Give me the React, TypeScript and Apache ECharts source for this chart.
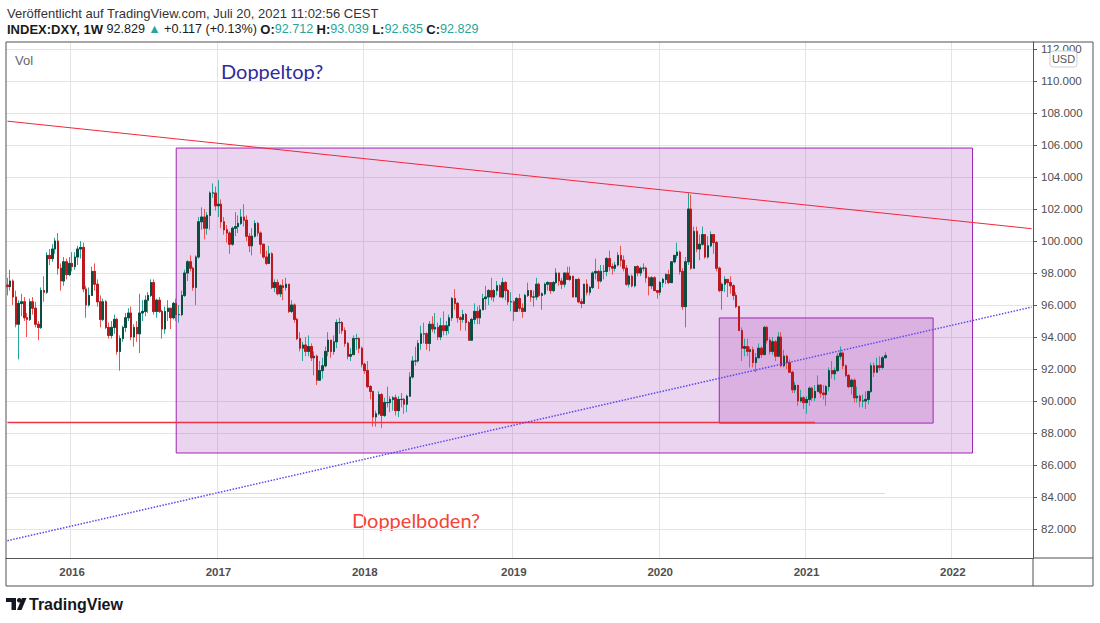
import React, { useEffect, useRef } from "react";
import * as echarts from "echarts";

// ---------- DATA (weekly candles, [open, close, low, high]) ----------
const firstWeek = "2015-07-27";
const totalWeeks = 365; // axis runs into 2022 with empty space

const y2015 = [
  [97.25, 97.15, 96.6, 97.7], [97.15, 97.5, 96.9, 98.2], [97.5, 96.5, 96.0, 97.6], [96.5, 94.8, 94.6, 96.9],
  [94.8, 96.1, 92.6, 96.3], [96.1, 96.2, 95.3, 96.7], [96.2, 95.2, 95.0, 96.5], [95.2, 95.1, 94.0, 95.5],
  [95.1, 96.2, 95.0, 96.4], [96.2, 95.8, 95.4, 96.5], [95.8, 94.8, 94.6, 96.2], [94.8, 94.6, 93.8, 95.0],
  [94.6, 96.9, 94.5, 97.1], [96.9, 96.8, 96.2, 97.8], [96.8, 99.1, 96.7, 99.3], [99.1, 98.9, 98.5, 99.5],
  [98.9, 99.5, 98.7, 99.8], [99.5, 100.0, 99.2, 100.2], [100.0, 98.3, 97.9, 100.5], [98.3, 97.5, 96.9, 98.6],
  [97.5, 98.7, 97.2, 99.0], [98.7, 97.9, 97.6, 98.9], [97.9, 98.6, 97.8, 99.0],
];
const y2016 = [
  [98.6, 98.4, 98.1, 99.3], [98.4, 99.0, 98.2, 99.3], [99.0, 99.5, 98.5, 99.7], [99.5, 99.6, 98.9, 100.0],
  [99.6, 97.0, 96.8, 99.9], [97.0, 96.0, 95.2, 97.2], [96.0, 96.6, 95.9, 97.1], [96.6, 98.1, 96.6, 98.4],
  [98.1, 97.3, 96.9, 98.6], [97.3, 96.2, 95.9, 97.6], [96.2, 95.1, 94.6, 96.6], [95.1, 96.2, 95.0, 96.4],
  [96.2, 94.6, 94.5, 96.3], [94.6, 94.1, 93.9, 94.9], [94.1, 94.6, 93.9, 95.0], [94.6, 95.1, 94.2, 95.4],
  [95.1, 93.1, 92.9, 95.2], [93.1, 93.9, 91.9, 94.1], [93.9, 94.6, 93.7, 94.7], [94.6, 95.2, 94.3, 95.5],
  [95.2, 95.5, 95.0, 95.8], [95.5, 94.0, 93.8, 95.9], [94.0, 94.6, 93.4, 94.8], [94.6, 94.2, 93.7, 95.0],
  [94.2, 95.5, 93.0, 96.7], [95.5, 95.6, 95.0, 96.3], [95.6, 96.3, 95.3, 96.6], [96.3, 96.6, 95.5, 96.8],
  [96.6, 97.4, 96.5, 97.6], [97.4, 95.6, 95.4, 97.6], [95.6, 96.3, 95.2, 96.4], [96.3, 95.6, 95.5, 96.5],
  [95.6, 94.5, 93.9, 95.7], [94.5, 95.6, 94.2, 95.9], [95.6, 95.8, 95.0, 96.3], [95.8, 95.2, 94.5, 95.8],
  [95.2, 96.1, 95.1, 96.2], [96.1, 95.4, 95.0, 96.4], [95.4, 95.4, 94.9, 96.0], [95.4, 96.6, 95.3, 96.9],
  [96.6, 98.0, 96.5, 98.2], [98.0, 98.7, 97.5, 98.8], [98.7, 98.3, 98.1, 99.1], [98.3, 97.1, 96.9, 98.4],
  [97.1, 99.0, 96.0, 99.1], [99.0, 101.2, 98.9, 101.5], [101.2, 101.5, 100.7, 102.1], [101.5, 100.8, 100.1, 102.0],
  [100.8, 101.6, 100.4, 101.8], [101.6, 103.0, 100.7, 103.1], [103.0, 103.0, 102.7, 103.6], [103.0, 102.2, 101.9, 103.4],
];
const y2017 = [
  [102.2, 102.3, 101.5, 103.8], [102.3, 101.2, 100.8, 102.6], [101.2, 100.7, 100.4, 101.5], [100.7, 100.5, 99.9, 101.0],
  [100.5, 99.8, 99.2, 100.6], [99.8, 100.8, 99.7, 100.9], [100.8, 100.9, 100.3, 101.8], [100.9, 101.1, 100.5, 101.6],
  [101.1, 101.5, 101.0, 102.0], [101.5, 101.3, 100.9, 102.3], [101.3, 100.3, 100.0, 101.6], [100.3, 99.7, 99.3, 100.5],
  [99.7, 100.3, 99.1, 100.8], [100.3, 101.1, 100.2, 101.3], [101.1, 100.5, 100.3, 101.2], [100.5, 99.8, 99.2, 100.6],
  [99.8, 99.0, 98.9, 99.8], [99.0, 98.6, 98.5, 99.4], [98.6, 99.2, 98.6, 99.7], [99.2, 97.1, 97.0, 99.3],
  [97.1, 97.4, 96.8, 97.6], [97.4, 96.7, 96.6, 97.6], [96.7, 97.2, 96.5, 97.3], [97.2, 97.1, 96.3, 97.6],
  [97.1, 97.3, 96.9, 97.7], [97.3, 95.6, 95.5, 97.3], [95.6, 96.0, 95.5, 96.3], [96.0, 95.1, 94.9, 96.1],
  [95.1, 93.9, 93.8, 95.2], [93.9, 93.3, 93.1, 94.3], [93.3, 93.5, 92.5, 93.7], [93.5, 93.1, 92.8, 94.0],
  [93.1, 93.4, 92.8, 94.1], [93.4, 92.7, 92.5, 93.6], [92.7, 92.8, 91.6, 93.1], [92.8, 91.3, 91.0, 92.9],
  [91.3, 91.9, 91.3, 92.5], [91.9, 92.2, 91.4, 92.7], [92.2, 93.1, 92.1, 93.4], [93.1, 93.8, 92.8, 94.3],
  [93.8, 93.1, 92.7, 93.8], [93.1, 93.7, 92.9, 94.1], [93.7, 94.9, 93.3, 95.1], [94.9, 94.9, 94.2, 95.2],
  [94.9, 94.4, 94.2, 95.0], [94.4, 93.6, 93.4, 94.6], [93.6, 92.8, 92.6, 93.7], [92.8, 92.9, 92.5, 93.3],
  [92.9, 93.9, 92.9, 94.1], [93.9, 93.9, 93.2, 94.2], [93.9, 93.3, 93.0, 94.0], [93.3, 92.3, 92.1, 93.4],
];
const y2018 = [
  [92.3, 91.9, 91.7, 92.4], [91.9, 90.9, 90.8, 92.5], [90.9, 90.6, 90.1, 91.0], [90.6, 89.0, 88.4, 90.6],
  [89.0, 89.2, 88.4, 89.4], [89.2, 90.4, 89.1, 90.6], [90.4, 89.1, 88.3, 90.5], [89.1, 89.9, 89.0, 90.2],
  [89.9, 89.9, 89.6, 90.9], [89.9, 90.1, 89.3, 90.3], [90.1, 90.2, 89.4, 90.3], [90.2, 89.4, 89.1, 90.4],
  [89.4, 90.1, 89.0, 90.3], [90.1, 90.1, 89.6, 90.5], [90.1, 89.8, 89.2, 90.2], [89.8, 90.3, 89.3, 90.4],
  [90.3, 91.5, 90.3, 91.8], [91.5, 92.5, 91.4, 92.8], [92.5, 92.5, 92.2, 93.4], [92.5, 93.6, 92.4, 93.8],
  [93.6, 94.2, 93.2, 94.7], [94.2, 94.2, 93.6, 94.9], [94.2, 93.6, 93.2, 94.3], [93.6, 94.8, 93.1, 95.0],
  [94.8, 94.5, 94.3, 95.3], [94.5, 94.6, 94.2, 95.5], [94.6, 94.0, 93.8, 94.9], [94.0, 94.7, 93.8, 95.2],
  [94.7, 94.4, 94.1, 95.6], [94.4, 94.7, 94.1, 95.0], [94.7, 95.2, 94.2, 95.4], [95.2, 96.4, 95.0, 96.5],
  [96.4, 96.1, 95.7, 97.0], [96.1, 95.2, 94.9, 96.2], [95.2, 95.1, 94.4, 95.3], [95.1, 95.4, 94.9, 95.7],
  [95.4, 94.9, 94.4, 95.5], [94.9, 93.8, 93.8, 95.0], [93.8, 95.1, 93.8, 95.2], [95.1, 95.6, 94.8, 96.1],
  [95.6, 95.2, 94.8, 95.9], [95.2, 95.7, 94.8, 96.0], [95.7, 96.4, 95.7, 96.7], [96.4, 96.5, 95.7, 97.2],
  [96.5, 96.9, 96.0, 97.0], [96.9, 96.5, 96.3, 97.7], [96.5, 96.9, 96.2, 97.0], [96.9, 97.2, 96.6, 97.5],
  [97.2, 96.5, 96.5, 97.3], [96.5, 97.4, 96.4, 97.7], [97.4, 96.9, 96.3, 97.5], [96.9, 96.2, 96.0, 97.0],
  [96.2, 96.2, 95.6, 96.8],
];
const y2019 = [
  [96.2, 95.6, 95.0, 96.3], [95.6, 96.4, 95.6, 96.5], [96.4, 95.8, 95.6, 96.7], [95.8, 95.6, 95.2, 96.1],
  [95.6, 96.6, 95.6, 96.7], [96.6, 96.9, 96.5, 97.4], [96.9, 96.5, 96.2, 96.9], [96.5, 96.5, 95.9, 96.9],
  [96.5, 97.3, 96.3, 97.7], [97.3, 96.6, 96.5, 97.4], [96.6, 96.7, 95.7, 96.8], [96.7, 97.3, 96.6, 97.4],
  [97.3, 97.4, 96.9, 97.5], [97.4, 96.9, 96.7, 97.4], [96.9, 97.4, 96.8, 97.5], [97.4, 98.0, 97.3, 98.3],
  [98.0, 97.5, 97.2, 98.0], [97.5, 97.3, 97.0, 97.7], [97.3, 98.0, 97.1, 98.0], [98.0, 97.6, 97.6, 98.4],
  [97.6, 97.8, 97.5, 98.4], [97.8, 96.5, 96.5, 97.8], [96.5, 97.6, 96.5, 97.6], [97.6, 96.2, 96.1, 97.7],
  [96.2, 96.1, 95.8, 96.4], [96.1, 97.3, 96.1, 97.3], [97.3, 96.8, 96.6, 97.6], [96.8, 97.1, 96.6, 97.2],
  [97.1, 98.0, 97.0, 98.1], [98.0, 98.1, 97.6, 98.9], [98.1, 97.5, 97.0, 98.2], [97.5, 98.1, 97.4, 98.5],
  [98.1, 98.1, 97.6, 98.5], [98.1, 98.9, 97.8, 99.0], [98.9, 98.4, 98.1, 99.4], [98.4, 98.3, 97.9, 98.6],
  [98.3, 98.5, 98.1, 98.7], [98.5, 99.1, 98.4, 99.3], [99.1, 98.8, 98.4, 99.7], [98.8, 98.3, 98.1, 99.1],
  [98.3, 97.3, 97.2, 98.5], [97.3, 97.8, 97.1, 97.9], [97.8, 97.2, 97.1, 97.9], [97.2, 98.4, 97.1, 98.4],
  [98.4, 98.0, 97.8, 98.5], [98.0, 98.3, 97.8, 98.4], [98.3, 98.3, 98.1, 98.6], [98.3, 97.7, 97.4, 98.4],
  [97.7, 97.2, 96.6, 97.8], [97.2, 97.7, 97.0, 97.8], [97.7, 96.9, 96.9, 97.8], [96.9, 96.8, 96.4, 96.9],
];
const y2020 = [
  [96.8, 97.4, 96.6, 97.5], [97.4, 97.6, 97.1, 97.7], [97.6, 97.9, 97.3, 98.0], [97.9, 97.4, 97.3, 98.2],
  [97.4, 98.7, 97.4, 98.7], [98.7, 99.1, 98.6, 99.1], [99.1, 99.3, 98.9, 99.9], [99.3, 98.1, 97.9, 99.4],
  [98.1, 95.9, 95.7, 98.3], [95.9, 98.7, 94.6, 99.0], [98.7, 102.0, 98.5, 103.0], [102.0, 98.3, 98.2, 102.9],
  [98.3, 100.6, 98.3, 100.9], [100.6, 99.5, 99.3, 100.9], [99.5, 99.8, 98.8, 100.4], [99.8, 100.4, 99.7, 100.9],
  [100.4, 99.0, 98.9, 100.4], [99.0, 99.7, 98.9, 100.3], [99.7, 100.4, 99.6, 100.6], [100.4, 99.9, 99.2, 100.4],
  [99.9, 98.3, 98.1, 100.0], [98.3, 96.9, 96.8, 98.4], [96.9, 97.3, 95.7, 97.4], [97.3, 97.6, 96.8, 97.8],
  [97.6, 97.4, 96.5, 97.6], [97.4, 97.2, 96.7, 97.8], [97.2, 96.6, 96.3, 97.3], [96.6, 95.9, 95.8, 96.8],
  [95.9, 94.4, 94.4, 95.9], [94.4, 93.3, 92.5, 94.6], [93.3, 93.4, 92.8, 93.9], [93.4, 93.1, 92.8, 93.9],
  [93.1, 93.2, 92.1, 93.4], [93.2, 92.4, 92.1, 93.4], [92.4, 92.7, 91.8, 93.0], [92.7, 93.3, 92.7, 93.6],
  [93.3, 92.9, 92.7, 93.4], [92.9, 94.6, 92.9, 94.7], [94.6, 93.8, 93.6, 94.7], [93.8, 93.1, 92.9, 94.0],
  [93.1, 93.7, 92.9, 94.0], [93.7, 92.8, 92.5, 93.8], [92.8, 94.0, 92.8, 94.3], [94.0, 92.2, 92.1, 94.3],
  [92.2, 92.8, 92.1, 93.2], [92.8, 92.4, 92.0, 92.9], [92.4, 91.8, 91.8, 92.6], [91.8, 90.7, 90.5, 91.9],
  [90.7, 90.98, 90.5, 91.2], [90.98, 90.0, 89.7, 91.0], [90.0, 90.2, 89.9, 90.7], [90.2, 89.9, 89.5, 90.3],
];
const y2021 = [
  [89.9, 90.1, 89.2, 90.3], [90.1, 90.8, 89.7, 90.9], [90.8, 90.2, 90.0, 90.9], [90.2, 90.6, 90.0, 91.0],
  [90.6, 91.0, 90.6, 91.6], [91.0, 90.5, 90.2, 91.0], [90.5, 90.4, 90.1, 91.0], [90.4, 90.9, 89.7, 91.0],
  [90.9, 91.9, 90.6, 92.1], [91.9, 91.7, 91.4, 92.5], [91.7, 91.9, 91.3, 92.1], [91.9, 92.8, 91.8, 93.0],
  [92.8, 93.0, 92.6, 93.4], [93.0, 92.2, 92.0, 93.1], [92.2, 91.6, 91.5, 92.3], [91.6, 90.9, 90.8, 91.7],
  [90.9, 91.3, 90.4, 91.4], [91.3, 90.2, 89.9, 91.4], [90.2, 90.3, 89.9, 90.9], [90.3, 90.0, 89.6, 90.4],
  [90.0, 90.0, 89.6, 90.4], [90.0, 90.1, 89.5, 90.6], [90.1, 90.6, 89.8, 90.6], [90.6, 92.2, 90.5, 92.4],
  [92.2, 91.8, 91.5, 92.4], [91.8, 92.2, 91.8, 92.7], [92.2, 92.1, 91.9, 92.8], [92.1, 92.7, 92.0, 92.8],
  [92.712, 92.829, 92.635, 93.039],
];

const priceTicks = [82, 84, 86, 88, 90, 92, 94, 96, 98, 100, 102, 104, 106, 108, 110, 112];
const priceMin = 80.1875;
const priceMax = 112.4375;

// drawings (in data space: week date, price)
const bigBox = { from: "2016-09-19", to: "2022-02-21", low: 86.75, high: 105.81 };
const smallBox = { from: "2020-06-01", to: "2021-11-15", low: 88.62, high: 95.19 };
const resistance = [["2015-07-27", 107.49], ["2022-07-18", 100.77]];
const support = [["2015-07-27", 81.27], ["2022-07-18", 95.87]];
const bottomLine = [["2015-07-27", 88.69], ["2021-01-25", 88.69]];
const volLine = [["2015-07-27", 84.25], ["2021-07-19", 84.25]];

const buildDates = () => {
  const [y, m, d] = firstWeek.split("-").map(Number);
  const t0 = Date.UTC(y, m - 1, d);
  const out: string[] = [];
  for (let i = 0; i < totalWeeks; i++) {
    out.push(new Date(t0 + i * 7 * 86400000).toISOString().slice(0, 10));
  }
  return out;
};

export default function App() {
  const ref = useRef<HTMLDivElement>(null);
  useEffect(() => {
    document.body.style.margin = "0";
    const chart = echarts.init(ref.current!, null, { renderer: "svg" });
    const dates = buildDates();
    const candles = [...y2015, ...y2016, ...y2017, ...y2018, ...y2019, ...y2020, ...y2021];
    const bodies = candles.map(([o, c]) => [o, c, Math.min(o, c), Math.max(o, c)]);
    const isYearStart = (i: number) =>
      i > 0 && dates[i].slice(0, 4) !== dates[i - 1].slice(0, 4);

    const UP = "#0b4d3f";
    const DOWN = "#b9191f";
    const line = (pts: any[], lineStyle: any) => [{ coord: pts[0], lineStyle }, { coord: pts[1] }];

    const option: any = {
      animation: false,
      grid: { left: 6, right: 67, top: 42, bottom: 65, containLabel: false, outerBoundsMode: "none" },
      xAxis: {
        type: "category",
        data: dates,
        boundaryGap: true,
        axisLine: { show: true, lineStyle: { color: "#555", width: 1 } },
        axisTick: { show: false },
        axisLabel: {
          interval: (i: number) => isYearStart(i),
          formatter: (v: string) => v.slice(0, 4),
          color: "#4f4f4f",
          fontSize: 11.5,
          fontWeight: "bold",
          fontFamily: "Liberation Sans",
          margin: 8,
        },
        splitLine: {
          show: true,
          interval: (i: number) => isYearStart(i),
          lineStyle: { color: "#e4e4e4", width: 1 },
        },
      },
      yAxis: {
        type: "value",
        position: "right",
        min: priceMin,
        max: priceMax,
        axisLine: { show: true, lineStyle: { color: "#555", width: 1 } },
        axisTick: { show: true, length: 4, customValues: priceTicks, lineStyle: { color: "#555" } },
        axisLabel: {
          customValues: priceTicks,
          formatter: (v: number) => v.toFixed(3),
          color: "#4f4f4f",
          fontSize: 11.5,
          fontFamily: "Liberation Sans",
          margin: 8,
        },
        splitLine: { show: true, lineStyle: { color: "#e4e4e4", width: 1 } },
      },
      series: [
        {
          type: "line",
          data: [],
          z: 1,
          silent: true,
          markArea: {
            silent: true,
            itemStyle: { color: "rgba(156,39,176,0.2)", borderColor: "#9c27b0", borderWidth: 1 },
            data: [
              [{ xAxis: bigBox.from, yAxis: bigBox.high }, { xAxis: bigBox.to, yAxis: bigBox.low }],
              [{ xAxis: smallBox.from, yAxis: smallBox.high }, { xAxis: smallBox.to, yAxis: smallBox.low }],
            ],
          },
        },
        {
          type: "candlestick",
          data: candles,
          z: 2,
          barWidth: 2,
          itemStyle: {
            color: UP,
            color0: DOWN,
            borderColor: "#26a69a",
            borderColor0: "#ef5350",
            borderWidth: 1,
          },
        },
        {
          type: "candlestick",
          data: bodies,
          z: 3,
          barWidth: 2,
          itemStyle: { color: UP, color0: DOWN, borderColor: UP, borderColor0: DOWN, borderWidth: 1 },
        },
        {
          type: "line",
          data: [],
          z: 4,
          silent: true,
          markLine: {
            silent: true,
            symbol: ["none", "none"],
            label: { show: false },
            data: [
              line(resistance, { color: "#f2273b", width: 1, type: "solid" }),
              line(bottomLine, { color: "#ee3344", width: 1.3, type: "solid" }),
              line(support, { color: "#5a48f0", width: 1.5, type: "dotted" }),
              line(volLine, { color: "#f4a3ad", width: 1, type: [1, 3], dashOffset: 0 }),
              line(volLine, { color: "#7fcbc2", width: 1, type: [1, 3], dashOffset: 2 }),
            ],
          },
        },
      ],
      graphic: [
        {
          type: "rect",
          z: 50,
          silent: true,
          shape: { x: 6, y: 42, width: 1087, height: 544 },
          style: { fill: "none", stroke: "#505050", lineWidth: 1 },
        },
        {
          type: "line",
          z: 50,
          silent: true,
          shape: { x1: 1033, y1: 558, x2: 1033, y2: 586 },
          style: { stroke: "#505050", lineWidth: 1 },
        },
        {
          type: "line",
          z: 50,
          silent: true,
          shape: { x1: 1033, y1: 558, x2: 1093, y2: 558 },
          style: { stroke: "#505050", lineWidth: 1 },
        },
        {
          type: "text",
          x: 7,
          y: 13,
          style: {
            text: "Veröffentlicht auf TradingView.com, Juli 20, 2021 11:02:56 CEST",
            font: '13px "Liberation Sans"',
            fill: "#333",
            verticalAlign: "middle",
          },
        },
        {
          type: "text",
          x: 7,
          y: 29,
          style: {
            text:
              "{b|INDEX:DXY, 1W} {n|92.829} {t|▲} {n|+0.117 (+0.13%)} {b|O:}{t|92.712} {b|H:}{t|93.039} {b|L:}{t|92.635} {b|C:}{t|92.829}",
            verticalAlign: "middle",
            rich: {
              b: { font: 'bold 13px "Liberation Sans"', fill: "#1a1a1a" },
              n: { font: '12.6px "Liberation Sans"', fill: "#1a1a1a" },
              t: { font: '12.6px "Liberation Sans"', fill: "#26a69a" },
            },
          },
        },
        {
          type: "text",
          x: 15,
          y: 60,
          style: { text: "Vol", font: '13px "Liberation Sans"', fill: "#666", verticalAlign: "middle" },
        },
        {
          type: "text",
          x: 221,
          y: 71,
          style: { text: "Doppeltop?", font: '20px "Lato"', fill: "#2f2a9c", verticalAlign: "middle" },
        },
        {
          type: "text",
          x: 352,
          y: 520,
          style: { text: "Doppelboden?", font: '20px "Lato"', fill: "#f44336", verticalAlign: "middle" },
        },
        {
          type: "rect",
          z: 60,
          shape: { x: 1050, y: 51, width: 27, height: 16, r: 3 },
          style: { fill: "#fff", stroke: "#cfcfcf", lineWidth: 1 },
        },
        {
          type: "text",
          z: 61,
          x: 1063.5,
          y: 59,
          style: {
            text: "USD",
            font: '11px "Liberation Sans"',
            fill: "#555",
            align: "center",
            verticalAlign: "middle",
          },
        },
        { type: "rect", shape: { x: 6, y: 598, width: 10, height: 4 }, style: { fill: "#131722" } },
        { type: "rect", shape: { x: 11.5, y: 598, width: 4.5, height: 12 }, style: { fill: "#131722" } },
        { type: "circle", shape: { cx: 19.3, cy: 600.3, r: 2.3 }, style: { fill: "#131722" } },
        {
          type: "polygon",
          shape: { points: [[22, 598], [26.5, 598], [21.5, 610], [17, 610]] },
          style: { fill: "#131722" },
        },
        {
          type: "text",
          x: 29,
          y: 604.5,
          style: {
            text: "TradingView",
            font: 'bold 16px "Liberation Sans"',
            fill: "#131722",
            verticalAlign: "middle",
          },
        },
      ],
    };
    chart.setOption(option);
    return () => chart.dispose();
  }, []);
  return (
    <div
      ref={ref}
      style={{ position: "absolute", left: 0, top: 0, width: 1100, height: 623, background: "#fff" }}
    />
  );
}
